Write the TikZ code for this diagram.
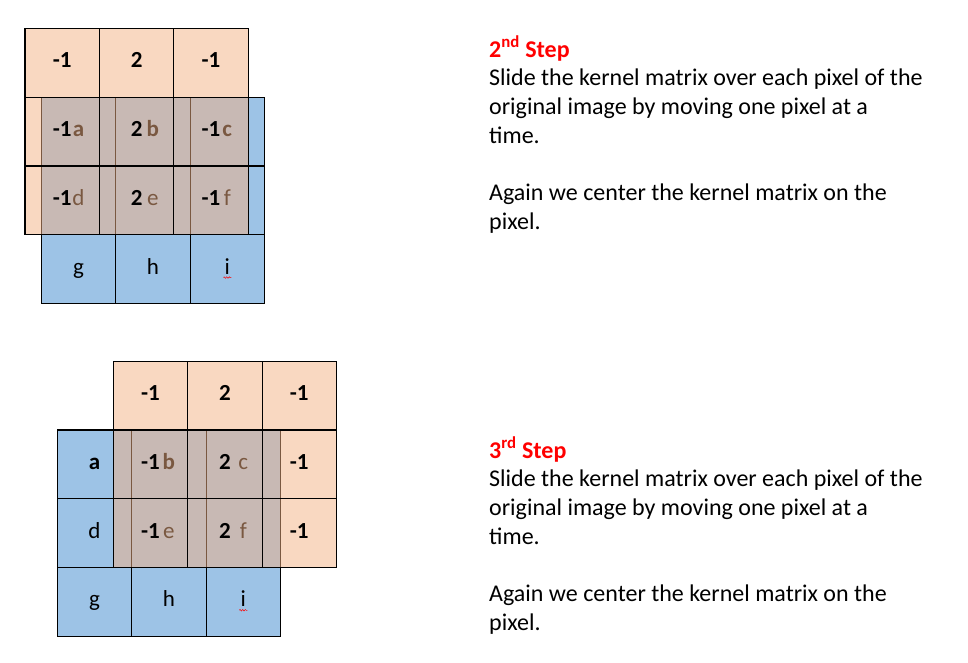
\documentclass[tikz,border=0pt]{standalone}
\usepackage{fontspec}
\setmainfont{Carlito}
\usetikzlibrary{calc,decorations.pathmorphing}

\definecolor{pixblue}{HTML}{9DC3E6}
\definecolor{kerorange}{HTML}{F4B183}
\definecolor{stepred}{HTML}{FF0000}

\begin{document}
\begin{tikzpicture}[x=1pt, y=-1pt, line join=miter]
  \useasboundingbox (0,0) rectangle (968,663);
  \tikzset{
    pix/.style={draw=black, fill=pixblue, line width=1.1pt, inner sep=0pt,
                minimum width=74.4pt, minimum height=68.7pt,
                text height=16pt, text depth=6pt,
                font=\fontsize{23}{26}\selectfont},
    ker/.style={pix, fill=kerorange, fill opacity=0.5, text opacity=1,
                font=\fontsize{23}{26}\selectfont\bfseries},
    bf/.style={font=\fontsize{23}{26}\selectfont\bfseries},
    steptext/.style={anchor=north west, inner sep=0pt, align=left,
                     font=\fontsize{24}{28.7}\selectfont},
    squiggle/.style={stepred, line width=0.5pt, decorate,
                     decoration={snake, amplitude=0.8pt, segment length=2.6pt}}
  }

  % --- 2nd step: image cells (drawn first, kernel goes over them)
  \node[pix, bf] (ta) at ( 78.5,131.65) {a};
  \node[pix, bf] (tb) at (152.9,131.65) {b};
  \node[pix, bf] (tc) at (227.3,131.65) {c};
  \node[pix] (td) at ( 78.5,200.35) {d};
  \node[pix] (te) at (152.9,200.35) {e};
  \node[pix] (tf) at (227.3,200.35) {f};
  \node[pix] (tg) at ( 78.5,269.05) {g};
  \node[pix] (th) at (152.9,269.05) {h};
  \node[pix] (ti) at (227.3,269.05) {i};

  % --- 2nd step: kernel, half transparent
  \node[ker] (tk11) at ( 62.2, 62.95) {-1};
  \node[ker] (tk12) at (136.6, 62.95) {2};
  \node[ker] (tk13) at (211.0, 62.95) {-1};
  \node[ker] (tk21) at ( 62.2,131.65) {-1};
  \node[ker] (tk22) at (136.6,131.65) {2};
  \node[ker] (tk23) at (211.0,131.65) {-1};
  \node[ker] (tk31) at ( 62.2,200.35) {-1};
  \node[ker] (tk32) at (136.6,200.35) {2};
  \node[ker] (tk33) at (211.0,200.35) {-1};

  % --- 3rd step: image cells
  \node[pix, bf] (ba) at ( 94.5,464.35) {a};
  \node[pix, bf] (bb) at (168.9,464.35) {b};
  \node[pix] (bc) at (243.3,464.35) {c};
  \node[pix] (bd) at ( 94.5,533.05) {d};
  \node[pix] (be) at (168.9,533.05) {e};
  \node[pix] (bf) at (243.3,533.05) {f};
  \node[pix] (bg) at ( 94.5,601.75) {g};
  \node[pix] (bh) at (168.9,601.75) {h};
  \node[pix] (bi) at (243.3,601.75) {i};

  % --- 3rd step: kernel
  \node[ker] (bk11) at (150.5,395.65) {-1};
  \node[ker] (bk12) at (224.9,395.65) {2};
  \node[ker] (bk13) at (299.3,395.65) {-1};
  \node[ker] (bk21) at (150.5,464.35) {-1};
  \node[ker] (bk22) at (224.9,464.35) {2};
  \node[ker] (bk23) at (299.3,464.35) {-1};
  \node[ker] (bk31) at (150.5,533.05) {-1};
  \node[ker] (bk32) at (224.9,533.05) {2};
  \node[ker] (bk33) at (299.3,533.05) {-1};

  % --- spell-check squiggles under the i's
  \draw[squiggle] ($(ti.base)+(-4,3.5)$) -- ($(ti.base)+(4,3.5)$);
  \draw[squiggle] ($(bi.base)+(-4,3.5)$) -- ($(bi.base)+(4,3.5)$);

  % --- explanations
  \node[steptext] (step2) at (489,36) {%
    {\color{stepred}\bfseries 2\textsuperscript{nd} Step}\\
    Slide the kernel matrix over each pixel of the\\
    original image by moving one pixel at a\\
    time.\\[28.7pt]
    Again we center the kernel matrix on the\\
    pixel.};
  \node[steptext] (step3) at (489,437) {%
    {\color{stepred}\bfseries 3\textsuperscript{rd} Step}\\
    Slide the kernel matrix over each pixel of the\\
    original image by moving one pixel at a\\
    time.\\[28.7pt]
    Again we center the kernel matrix on the\\
    pixel.};
\end{tikzpicture}
\end{document}
